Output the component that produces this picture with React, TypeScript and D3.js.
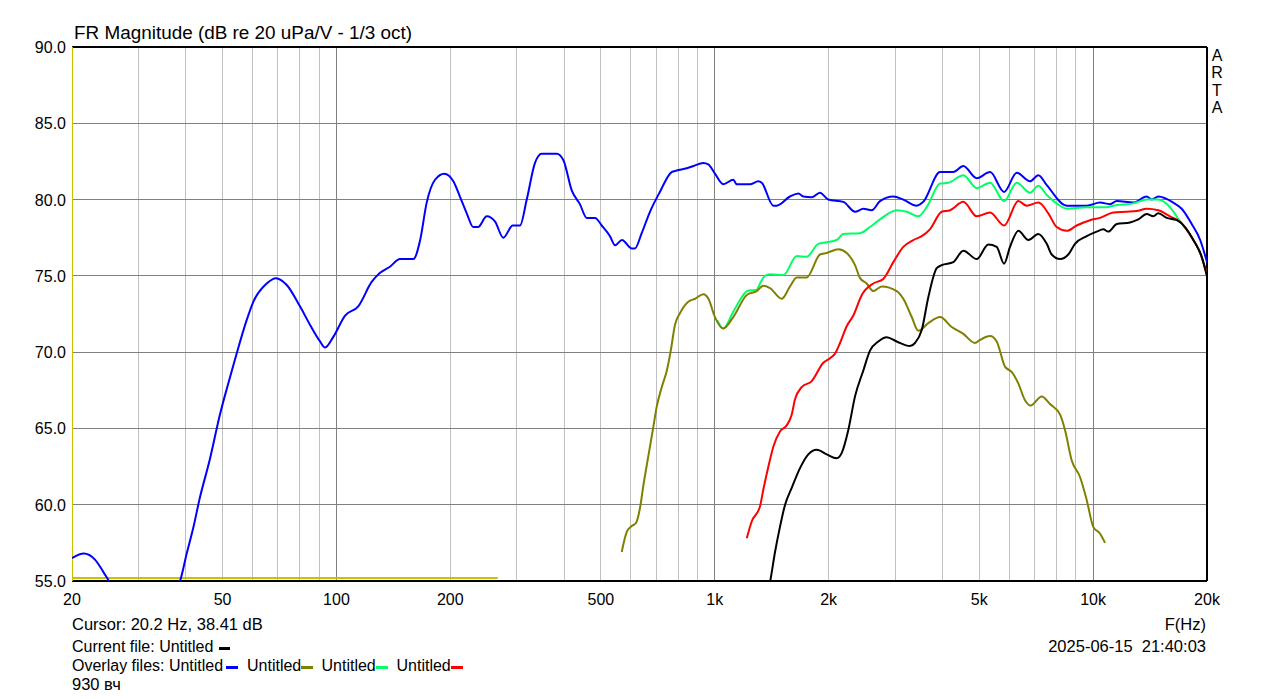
import React from 'react';
import * as d3 from 'd3';

// ---- Data (frequency Hz, dB) ----
const BLUE: [number, number][] = [
  [20, 56.5], [21.5, 56.8], [23.0, 56.4], [24.2, 55.6], [25.2, 54.9], [27, 54.0], [30, 53.2], [34, 53.2],
  [37, 54.2], [38.6, 55.0], [40.2, 56.8], [41.9, 58.55], [43.4, 60.3], [46.3, 63.0], [49.2, 65.9],
  [51.7, 67.9], [53.9, 69.5], [57.9, 72.1], [60.3, 73.3], [65.4, 74.5], [69.2, 74.85], [73.9, 74.4],
  [80.1, 73.0], [85.1, 71.8], [90.5, 70.7], [93.3, 70.3], [98.1, 71.0], [105.4, 72.4], [114.2, 73.0],
  [123.9, 74.6], [130.4, 75.2], [138.5, 75.6], [147.2, 76.1], [159.7, 76.1], [166.3, 77.3], [173.2, 79.8],
  [182.2, 81.3], [192.8, 81.7], [203.7, 81.2], [212, 80.2], [221, 79.1], [230, 78.2], [236.7, 78.2],
  [249.6, 78.9], [262.6, 78.55], [276, 77.5], [292.4, 78.3], [305.6, 78.3], [318.4, 80.0], [334.8, 82.4],
  [348.8, 83.0], [382.2, 83.0], [397.8, 82.6], [418.7, 80.6], [440, 79.7], [458.8, 78.8], [482.6, 78.8],
  [502.6, 78.3], [528.5, 77.6], [545, 77.0], [568.6, 77.35], [603, 76.8], [615, 76.8], [641, 77.8],
  [674, 79.2], [716, 80.5], [769, 81.8], [793, 81.9], [843, 82.05], [877.6, 82.2], [932.6, 82.4],
  [961.6, 82.3], [1001, 81.7], [1053, 81.0], [1119, 81.3], [1143, 81.0], [1239, 81.0], [1303, 81.2],
  [1331, 81.1], [1428, 79.6], [1458, 79.6], [1580, 80.2], [1663, 80.4], [1714, 80.2], [1804, 80.15],
  [1897, 80.45], [1995, 80.0], [2187, 79.85], [2348, 79.2], [2470, 79.4], [2599, 79.3], [2734, 79.9],
  [2965, 80.2], [3150, 80.0], [3418, 79.6], [3558, 79.85], [3940, 81.8], [4271, 81.8], [4539, 82.2],
  [4926, 81.4], [5342, 81.8], [5817, 80.5], [6282, 81.75], [6812, 81.2], [7166, 81.6], [7542, 80.95],
  [8516, 79.6], [9620, 79.6], [10436, 79.8], [11084, 79.7], [11546, 79.9], [12776, 79.8], [13854, 80.2],
  [14282, 80.0], [14868, 80.2], [16290, 79.8], [17146, 79.4], [18222, 78.4], [19186, 77.35], [20000, 75.9],
];

const OLIVE: [number, number][] = [
  [567.6, 56.9], [585, 58.2], [603, 58.6], [619, 58.8], [634, 59.75], [647, 61.2], [667, 63.15],
  [688, 65.1], [702, 66.4], [724, 67.7], [747, 68.8], [765, 70.1], [785, 71.8], [809, 72.55], [851, 73.3],
  [887, 73.5], [933, 73.8], [962, 73.5], [1001, 72.3], [1053, 71.55], [1119, 72.3], [1215, 73.75],
  [1291, 74.0], [1344, 74.35], [1399, 74.2], [1503, 73.5], [1580, 74.3], [1647, 74.9], [1750, 74.9],
  [1897, 76.4], [1976, 76.5], [2122, 76.75], [2232, 76.5], [2348, 75.7], [2421, 74.85], [2520, 74.5],
  [2624, 74.0], [2762, 74.3], [3026, 74.0], [3150, 73.5], [3316, 72.3], [3452, 71.4], [3668, 71.9],
  [3940, 72.3], [4228, 71.65], [4539, 71.2], [4874, 70.6], [5026, 70.8], [5342, 71.05], [5560, 70.7],
  [5850, 69.05], [6092, 68.7], [6342, 67.95], [6607, 66.85], [6839, 66.5], [7314, 67.1], [7692, 66.6],
  [8180, 65.9], [8428, 64.9], [8780, 62.9], [9240, 61.8], [9620, 60.3], [10010, 58.55], [10436, 58.1],
  [10752, 57.5],
];

const GREEN: [number, number][] = [
  [1015, 72.1], [1053, 71.55], [1119, 72.65], [1190, 73.75], [1215, 74.0], [1291, 74.1], [1317, 74.5],
  [1357, 75.0], [1399, 75.1], [1518, 75.05], [1647, 76.3], [1750, 76.25], [1878, 77.1], [1976, 77.2],
  [2100, 77.35], [2187, 77.75], [2421, 77.8], [2572, 78.2], [2734, 78.7], [3026, 79.3], [3216, 79.2],
  [3452, 78.9], [3632, 79.5], [3940, 81.05], [4143, 81.1], [4539, 81.6], [4926, 80.75], [5342, 81.1],
  [5817, 79.9], [6282, 81.1], [6812, 80.45], [7166, 80.9], [7542, 80.3], [8012, 79.75], [8516, 79.4],
  [9620, 79.5], [10860, 79.5], [11308, 79.6], [12776, 79.75], [13854, 80.0], [14868, 80.0], [15966, 79.5],
  [16986, 78.55], [18036, 77.7], [19186, 76.5], [20000, 75.1],
];

const RED: [number, number][] = [
  [1215, 57.8], [1252, 58.9], [1317, 59.9], [1344, 61.0], [1386, 62.5], [1428, 63.8], [1487, 64.8],
  [1549, 65.2], [1597, 65.9], [1629, 66.9], [1697, 67.7], [1804, 68.1], [1936, 69.3], [2016, 69.6],
  [2078, 69.9], [2143, 70.6], [2232, 71.7], [2324, 72.4], [2447, 73.75], [2624, 74.5], [2788, 74.8],
  [2965, 75.9], [3150, 76.9], [3348, 77.35], [3524, 77.6], [3704, 78.05], [3980, 79.2], [4186, 79.3],
  [4539, 79.85], [4926, 78.9], [5342, 79.15], [5817, 78.3], [6342, 79.9], [6676, 79.6], [7166, 79.8],
  [7614, 79.1], [8012, 78.2], [8516, 77.95], [9046, 78.3], [9812, 78.65], [10436, 78.8], [11308, 79.15],
  [12268, 79.2], [13038, 79.25], [13854, 79.4], [14868, 79.3], [15966, 78.9], [16986, 78.55],
  [18036, 77.7], [19186, 76.5], [20000, 75.1],
];

const BLACK: [number, number][] = [
  [1350, 53.5], [1399, 54.9], [1443, 56.9], [1487, 58.55], [1534, 60.0], [1597, 61.1], [1680, 62.4],
  [1767, 63.3], [1860, 63.6], [1976, 63.3], [2100, 63.05], [2166, 63.4], [2254, 64.9], [2348, 67.1],
  [2470, 68.8], [2572, 70.1], [2706, 70.7], [2848, 70.98], [3026, 70.7], [3281, 70.4], [3382, 70.6],
  [3524, 71.45], [3668, 73.6], [3861, 75.5], [3980, 75.7], [4271, 75.9], [4539, 76.65], [4926, 76.1],
  [5284, 77.05], [5560, 76.9], [5817, 75.8], [6030, 76.9], [6342, 77.95], [6742, 77.35], [7166, 77.75],
  [7542, 77.1], [7774, 76.4], [8176, 76.1], [8598, 76.4], [8956, 77.1], [9620, 77.6], [10218, 77.9],
  [10640, 78.05], [10968, 77.9], [11546, 78.4], [12522, 78.5], [13168, 78.7], [13854, 79.05],
  [14426, 78.9], [14868, 79.1], [15652, 78.8], [16636, 78.65], [17498, 78.2], [18402, 77.35],
  [19366, 76.25], [20000, 74.95],
];

const CURSOR_LINE: [number, number][] = [[20, 55.2], [267, 55.2]];

const X_TICKS = [20, 50, 100, 200, 500, 1000, 2000, 5000, 10000, 20000];
const X_TICK_LABELS = ['20', '50', '100', '200', '500', '1k', '2k', '5k', '10k', '20k'];
const Y_TICKS = [55, 60, 65, 70, 75, 80, 85, 90];
const MAJOR_DECADES = [100, 1000, 10000];

const SERIES = [
  { key: 'blue', color: '#0000ff', data: BLUE },
  { key: 'green', color: '#00ff66', data: GREEN },
  { key: 'olive', color: '#808000', data: OLIVE },
  { key: 'red', color: '#ff0000', data: RED },
  { key: 'black', color: '#000000', data: BLACK },
];

const W = 1279;
const H = 699;
const L = 72, R = 1207, T = 47, B = 581;
const FONT = '"Liberation Sans", Arial, Helvetica, sans-serif';
const FS = 16.5;
const FL = 16;

export default function App() {
  const x = d3.scaleLog().domain([20, 20000]).range([L, R]);
  const y = d3.scaleLinear().domain([55, 90]).range([B, T]);
  const line = d3
    .line<[number, number]>()
    .x((d) => x(d[0]))
    .y((d) => y(d[1]))
    .curve(d3.curveMonotoneX);

  const minor: number[] = [];
  [10, 100, 1000, 10000].forEach((base) => {
    for (let m = 2; m <= 9; m++) {
      const f = m * base;
      if (f > 20 && f < 20000) minor.push(f);
    }
  });

  return (
    <svg
      width={W}
      height={H}
      style={{ position: 'absolute', left: 0, top: 0, background: '#fff' }}
      fontFamily={FONT}
    >
      <rect x={0} y={0} width={W} height={H} fill="#fff" />
      <defs>
        <clipPath id="plotclip">
          <rect x={L} y={T} width={R - L} height={B - T} />
        </clipPath>
      </defs>

      {/* grid */}
      {minor.map((f) => (
        <line key={'mn' + f} x1={x(f)} x2={x(f)} y1={T} y2={B} stroke="#c0c0c0" strokeWidth={1} shapeRendering="crispEdges" />
      ))}
      {MAJOR_DECADES.map((f) => (
        <line key={'mj' + f} x1={x(f)} x2={x(f)} y1={T} y2={B} stroke="#808080" strokeWidth={1} shapeRendering="crispEdges" />
      ))}
      {Y_TICKS.map((v) => (
        <line key={'gy' + v} x1={L} x2={R} y1={y(v)} y2={y(v)} stroke="#808080" strokeWidth={1} shapeRendering="crispEdges" />
      ))}

      {/* frame */}
      <line x1={L} x2={R} y1={T} y2={T} stroke="#000" strokeWidth={1.5} shapeRendering="crispEdges" />
      <line x1={R} x2={R} y1={T} y2={B} stroke="#000" strokeWidth={1.5} shapeRendering="crispEdges" />
      <line x1={L} x2={R} y1={B} y2={B} stroke="#000" strokeWidth={1.5} shapeRendering="crispEdges" />
      <line x1={L} x2={L} y1={T} y2={B} stroke="#c8c000" strokeWidth={1} shapeRendering="crispEdges" />

      {/* curves */}
      <g clipPath="url(#plotclip)">
        <path d={line(CURSOR_LINE) || ''} fill="none" stroke="#c8c000" strokeWidth={2} />
        {SERIES.map((s) => (
          <path key={s.key} d={line(s.data) || ''} fill="none" stroke={s.color} strokeWidth={2} strokeLinejoin="round" />
        ))}
      </g>

      {/* title */}
      <text x={74} y={39} fontSize={18.9} fill="#000">FR Magnitude (dB re 20 uPa/V - 1/3 oct)</text>

      {/* y tick labels */}
      {Y_TICKS.map((v) => (
        <text key={'ty' + v} x={66} y={y(v) + 6} fontSize={16} textAnchor="end" fill="#000">{v.toFixed(1)}</text>
      ))}
      {/* x tick labels */}
      {X_TICKS.map((f, i) => (
        <text key={'tx' + f} x={x(f)} y={605} fontSize={16} textAnchor="middle" fill="#000">{X_TICK_LABELS[i]}</text>
      ))}

      {/* ARTA */}
      {['A', 'R', 'T', 'A'].map((c, i) => (
        <text key={'arta' + i} x={1217} y={61 + i * 17.4} fontSize={16} textAnchor="middle" fill="#000">{c}</text>
      ))}

      <text x={1206} y={630} fontSize={FS} textAnchor="end" fill="#000">F(Hz)</text>
      <text x={1206} y={652} fontSize={FS} textAnchor="end" fill="#000" style={{ whiteSpace: 'pre' }}>{'2025-06-15  21:40:03'}</text>

      {/* bottom info */}
      <text x={72} y={630} fontSize={FS} fill="#000">Cursor: 20.2 Hz, 38.41 dB</text>
      <text x={72} y={652} fontSize={FL} fill="#000">Current file: Untitled</text>
      <rect x={219} y={647} width={11} height={3} fill="#000" />
      <text x={72} y={671} fontSize={FL} fill="#000">Overlay files: Untitled</text>
      <rect x={226} y={666} width={12} height={3} fill="#0000ff" />
      <text x={247} y={671} fontSize={FL} fill="#000">Untitled</text>
      <rect x={301} y={666} width={12} height={3} fill="#808000" />
      <text x={321.5} y={671} fontSize={FL} fill="#000">Untitled</text>
      <rect x={376} y={666} width={12} height={3} fill="#00ff66" />
      <text x={396.5} y={671} fontSize={FL} fill="#000">Untitled</text>
      <rect x={451} y={666} width={12} height={3} fill="#ff0000" />
      <text x={72} y={690} fontSize={FS} fill="#000">930 вч</text>
    </svg>
  );
}
